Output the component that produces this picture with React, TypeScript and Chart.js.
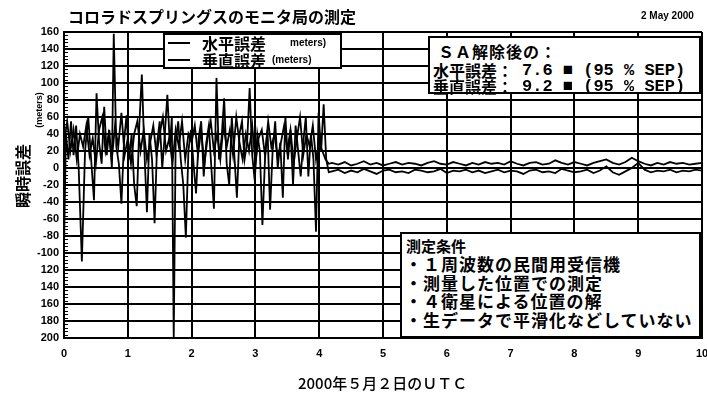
import React, { useEffect, useRef } from "react";
import { Chart, registerables } from "chart.js";
Chart.register(...registerables);

// ---- data ----
const saTimes = [0.00,0.03,0.07,0.11,0.15,0.19,0.23,0.28,0.33,0.38,0.43,0.47,0.51,0.55,0.59,0.63,0.67,0.71,0.75,0.78,0.82,0.86,0.90,0.94,0.98,1.02,1.06,1.10,1.14,1.18,1.22,1.26,1.30,1.34,1.38,1.42,1.46,1.50,1.54,1.58,1.62,1.66,1.69,1.72,1.75,1.79,1.83,1.87,1.91,1.95,1.99,2.03,2.07,2.11,2.15,2.19,2.23,2.27,2.31,2.35,2.39,2.43,2.47,2.51,2.55,2.59,2.63,2.67,2.71,2.75,2.79,2.83,2.87,2.91,2.95,2.99,3.03,3.07,3.11,3.15,3.19,3.23,3.27,3.31,3.35,3.39,3.43,3.47,3.51,3.55,3.59,3.63,3.67,3.71,3.75,3.79,3.83,3.87,3.91,3.95,3.99,4.03,4.07,4.11,4.15];
const saVertical = [-95,40,10,55,15,50,0,-110,20,60,5,-38,88,30,5,72,15,45,0,158,25,5,-42,30,62,10,40,-20,-45,50,110,20,-52,40,10,-65,30,55,0,40,86,25,60,-200,30,55,10,-20,-82,20,45,5,-30,35,55,-10,30,50,0,-48,106,10,35,82,5,-20,60,15,-35,40,55,10,30,94,15,-15,40,20,-67,10,45,-49,20,55,0,30,-35,60,10,45,-20,50,20,-10,30,60,-10,40,10,-75,65,20,75,10,-5];
const hTimes = [0.00,0.05,0.10,0.15,0.20,0.25,0.30,0.35,0.40,0.45,0.50,0.55,0.60,0.65,0.70,0.75,0.80,0.85,0.90,0.95,1.00,1.05,1.10,1.15,1.20,1.25,1.30,1.35,1.40,1.45,1.50,1.55,1.60,1.65,1.70,1.75,1.80,1.85,1.90,1.95,2.00,2.05,2.10,2.15,2.20,2.25,2.30,2.35,2.40,2.45,2.50,2.55,2.60,2.65,2.70,2.75,2.80,2.85,2.90,2.95,3.00,3.05,3.10,3.15,3.20,3.25,3.30,3.35,3.40,3.45,3.50,3.55,3.60,3.65,3.70,3.75,3.80,3.85,3.90,3.95,4.00,4.05,4.10,4.15];
const saHorizontal = [30,55,20,45,10,40,25,50,15,35,5,45,60,20,40,10,50,25,65,15,35,5,40,55,20,45,10,30,50,15,40,60,20,35,5,45,25,55,10,40,30,50,15,45,5,35,55,20,40,10,50,25,45,15,60,30,10,40,20,50,5,35,45,15,55,25,40,10,30,50,20,45,5,35,60,15,40,25,50,10,30,20,10,5];
const postTimes = [4.2,4.3,4.4,4.5,4.6,4.7,4.8,4.9,5.0,5.1,5.2,5.3,5.4,5.5,5.6,5.7,5.8,5.9,6.0,6.1,6.2,6.3,6.4,6.5,6.6,6.7,6.8,6.9,7.0,7.1,7.2,7.3,7.4,7.5,7.6,7.7,7.8,7.9,8.0,8.1,8.2,8.3,8.4,8.5,8.6,8.7,8.8,8.9,9.0,9.1,9.2,9.3,9.4,9.5,9.6,9.7,9.8,9.9,10.0];
const postHorizontal = [6,4,7,3,5,8,4,6,3,5,7,4,6,5,3,6,8,5,4,7,5,3,6,4,7,5,6,4,8,5,3,6,7,4,5,9,6,4,7,5,3,6,8,10,6,4,7,12,8,5,3,6,4,7,5,6,4,5,6];
const postVertical = [-4,-2,-6,-3,-5,-1,-4,-7,-3,-2,-5,-4,-6,-2,-3,-5,-4,-1,-6,-3,-4,-2,-5,-3,-6,-4,-2,-5,-3,-4,-7,-3,-2,-5,-4,-6,-1,-3,-5,-4,-2,-6,-3,2,-5,-8,-4,0,6,-2,-5,-3,-4,-2,-5,-3,-4,-2,-3];

const xTickLabels = ["0","1","2","3","4","5","6","7","8","9","10"];
// top to bottom, as printed
const yTickLabels = ["160","140","120","100","80","60","40","20","0","-20","-40","-60","-80","-100","120","140","160","180","200"];
const minorStep = 4;

const CJK = '"Noto Sans CJK JP", sans-serif';
const LAT = '"Liberation Sans", Arial, sans-serif';
const MONO = '"Liberation Mono", "DejaVu Sans Mono", monospace';

const minorTicks = {
  id: "minorTicks",
  afterDraw(chart: any) {
    const y = chart.scales.y;
    const ctx = chart.ctx;
    const left = chart.chartArea.left;
    ctx.save();
    ctx.strokeStyle = "#000";
    ctx.lineWidth = 1;
    for (let v = y.min; v <= y.max; v += minorStep) {
      const py = Math.round(y.getPixelForValue(v)) + 0.5;
      ctx.beginPath();
      ctx.moveTo(left, py);
      ctx.lineTo(left + 4, py);
      ctx.stroke();
    }
    ctx.restore();
  },
};

function T(props: { x: number; y: number; size: number; font?: string; weight?: any; children: any; style?: any }) {
  return (
    <div
      style={{
        position: "absolute",
        left: props.x,
        top: props.y,
        transform: "translateY(-50%)",
        fontSize: props.size,
        fontFamily: props.font || CJK,
        fontWeight: props.weight ?? 700,
        lineHeight: 1,
        whiteSpace: "nowrap",
        color: "#000",
        ...(props.style || {}),
      }}
    >
      {props.children}
    </div>
  );
}

export default function App() {
  const ref = useRef<HTMLCanvasElement>(null);
  useEffect(() => {
    const toPts = (xs: number[], ys: number[]) => xs.map((x, i) => ({ x, y: ys[i] }));
    const chart = new Chart(ref.current as HTMLCanvasElement, {
      type: "line",
      data: {
        datasets: [
          {
            label: "垂直誤差",
            data: toPts(saTimes.concat(postTimes), saVertical.concat(postVertical)),
            borderColor: "#000",
            borderWidth: 1.8,
            pointRadius: 0,
            tension: 0,
          },
          {
            label: "水平誤差",
            data: toPts(hTimes.concat(postTimes), saHorizontal.concat(postHorizontal)),
            borderColor: "#000",
            borderWidth: 1.8,
            pointRadius: 0,
            tension: 0,
          },
        ],
      },
      options: {
        animation: false,
        responsive: false,
        layout: { padding: { top: 32, right: 5, left: 0, bottom: 0 } },
        plugins: { legend: { display: false }, tooltip: { enabled: false } },
        scales: {
          x: {
            type: "linear",
            min: 0,
            max: 10,
            afterFit: (s: any) => { s.height = 55; s.paddingRight = 0; s.paddingLeft = 0; },
            grid: { color: "#000", lineWidth: 2, drawTicks: false },
            border: { color: "#000", width: 2 },
            ticks: {
              stepSize: 1,
              padding: 9,
              color: "#000",
              font: { family: LAT, size: 11, weight: "bold" },
              callback: (_v: any, i: number) => xTickLabels[i],
            },
          },
          y: {
            min: -200,
            max: 160,
            afterFit: (s: any) => { s.width = 64; },
            grid: { color: "#000", lineWidth: 2, drawTicks: false },
            border: { color: "#000", width: 2 },
            ticks: {
              stepSize: 20,
              padding: 5,
              color: "#000",
              font: { family: LAT, size: 11, weight: "bold" },
              callback: (_v: any, i: number, ticks: any[]) => yTickLabels[ticks.length - 1 - i],
            },
          },
        },
      },
      plugins: [minorTicks],
    });
    return () => chart.destroy();
  }, []);

  const box = { position: "absolute" as const, background: "#fff", border: "2px solid #000", boxSizing: "border-box" as const };
  const dash = (x: number, y: number) => (
    <div style={{ position: "absolute", left: x, top: y - 1, width: 22, height: 2, background: "#000" }} />
  );

  return (
    <div style={{ position: "absolute", left: 0, top: 0, width: 707, height: 393, background: "#fff", overflow: "hidden" }}>
      <canvas ref={ref} width={707} height={393} style={{ position: "absolute", left: 0, top: 0 }} />

      <T x={68} y={16} size={16}>コロラドスプリングスのモニタ局の測定</T>
      <T x={641} y={16} size={10} font={LAT}>2 May 2000</T>

      <div style={{ position: "absolute", left: 39, top: 110, transform: "translate(-50%,-50%) rotate(-90deg)", fontFamily: LAT, fontWeight: 700, fontSize: 9, whiteSpace: "nowrap", lineHeight: 1 }}>(meters)</div>
      <div style={{ position: "absolute", left: 22, top: 176, transform: "translate(-50%,-50%) rotate(-90deg)", fontFamily: CJK, fontWeight: 700, fontSize: 16, whiteSpace: "nowrap", lineHeight: 1 }}>瞬時誤差</div>

      <T x={298} y={382} size={15} weight={500}>2000年５月２日のＵＴＣ</T>

      <div style={{ ...box, left: 163, top: 33, width: 179, height: 36 }} />
      {dash(168, 43)}
      {dash(168, 60)}
      <T x={202} y={43} size={16}>水平誤差</T>
      <T x={290} y={43} size={10} font={LAT}>meters)</T>
      <T x={202} y={60} size={16}>垂直誤差</T>
      <T x={272} y={60} size={10} font={LAT}>(meters)</T>

      <div style={{ ...box, left: 428, top: 36, width: 273, height: 58 }} />
      <T x={438} y={51} size={16} style={{ letterSpacing: 1 }}>ＳＡ解除後の：</T>
      <T x={433} y={70} size={16}>水平誤差：</T>
      <T x={522} y={70} size={17} font={MONO}>7.6 ■ (95 % SEP)</T>
      <T x={433} y={86} size={16}>垂直誤差：</T>
      <T x={522} y={86} size={17} font={MONO}>9.2 ■ (95 % SEP)</T>

      <div style={{ ...box, left: 400, top: 232, width: 301, height: 106 }} />
      <T x={406} y={245} size={15}>測定条件</T>
      <T x={405} y={263} size={17} style={{ letterSpacing: 1 }}>・１周波数の民間用受信機</T>
      <T x={405} y={282} size={17} style={{ letterSpacing: 1 }}>・測量した位置での測定</T>
      <T x={405} y={300} size={17} style={{ letterSpacing: 1 }}>・４衛星による位置の解</T>
      <T x={405} y={319} size={17} style={{ letterSpacing: 1 }}>・生データで平滑化などしていない</T>
    </div>
  );
}
